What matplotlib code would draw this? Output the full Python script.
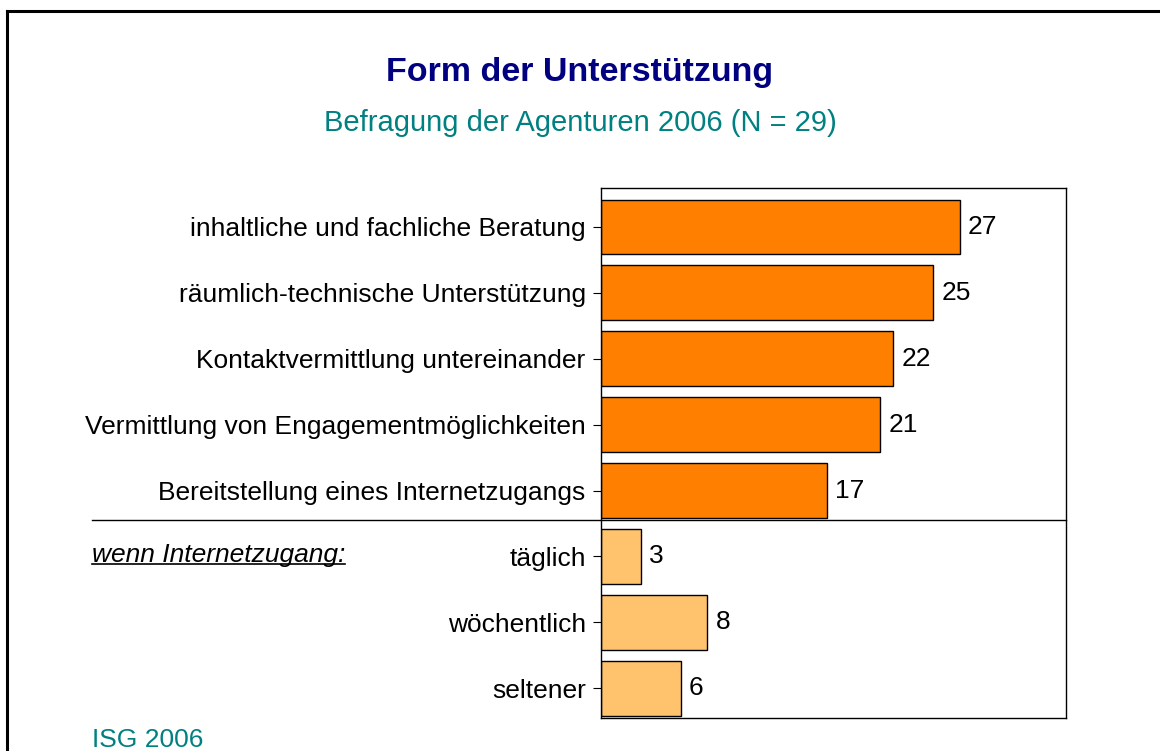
import matplotlib.pyplot as plt
import matplotlib.transforms as mtransforms
from matplotlib.lines import Line2D

plt.rcParams['font.family'] = ['Liberation Sans', 'DejaVu Sans']

# Kategorien und Anzahl der Nennungen
kategorien = [
    'inhaltliche und fachliche Beratung',
    'räumlich-technische Unterstützung',
    'Kontaktvermittlung untereinander',
    'Vermittlung von Engagementmöglichkeiten',
    'Bereitstellung eines Internetzugangs',
    'täglich',
    'wöchentlich',
    'seltener',
]
anzahl = [27, 25, 22, 21, 17, 3, 8, 6]
farben = ['#FF8000'] * 5 + ['#FFC36E'] * 3

fig = plt.figure(figsize=(11.6, 7.51), dpi=100)
ax = fig.add_axes([601 / 1160, 1 - 718 / 751, 465 / 1160, 530 / 751])

pos = list(range(len(kategorien)))
balken = ax.barh(pos, anzahl, height=0.83, color=farben, edgecolor='black', linewidth=1)

ax.set_xlim(0, 35)
ax.set_ylim(7.45, -0.59)
ax.set_yticks(pos)
ax.set_yticklabels(kategorien, fontsize=19)
ax.set_xticks([])
ax.tick_params(axis='y', length=6, width=0.8, pad=5)
for s in ax.spines.values():
    s.set_linewidth(1)

# Werte neben die Balken schreiben
for b, wert in zip(balken, anzahl):
    ax.annotate(str(wert), (wert, b.get_y() + b.get_height() / 2),
                xytext=(6, 0), textcoords='offset points',
                va='center', ha='left', fontsize=19)

# Trennlinie zwischen Hauptkategorien und Nutzungshäufigkeit
trans = mtransforms.blended_transform_factory(fig.transFigure, ax.transData)
ax.add_line(Line2D([92 / 1160, 1066 / 1160], [4.45, 4.45], transform=trans,
                   color='black', linewidth=1, clip_on=False))

# Titel und Untertitel
fig.text(0.5, 1 - 73 / 751, 'Form der Unterstützung', ha='center', va='center',
         fontsize=24.5, fontweight='bold', color='#000080')
fig.text(0.5, 1 - 123 / 751, 'Befragung der Agenturen 2006 (N = 29)', ha='center',
         va='center', fontsize=21, color='#008080')

# kursiver, unterstrichener Hinweis
hinweis = fig.text(92 / 1160, 1 - 555 / 751, 'wenn Internetzugang:', ha='left',
                   va='center', fontsize=19, style='italic')
renderer = fig.canvas.get_renderer()
bb = hinweis.get_window_extent(renderer).transformed(fig.transFigure.inverted())
fig.add_artist(Line2D([bb.x0, bb.x1], [bb.y0 + 0.004, bb.y0 + 0.004],
                      transform=fig.transFigure, color='black', linewidth=1.2))

fig.text(92 / 1160, 1 - 740 / 751, 'ISG 2006', ha='left', va='center',
         fontsize=19, color='#008080')

# Rahmen oben und links
fig.add_artist(Line2D([7 / 1160, 1], [1 - 11 / 751, 1 - 11 / 751],
                      transform=fig.transFigure, color='black', linewidth=2.2))
fig.add_artist(Line2D([7 / 1160, 7 / 1160], [0, 1 - 11 / 751],
                      transform=fig.transFigure, color='black', linewidth=2.2))

fig.savefig('out.png', dpi=100, facecolor='white')
